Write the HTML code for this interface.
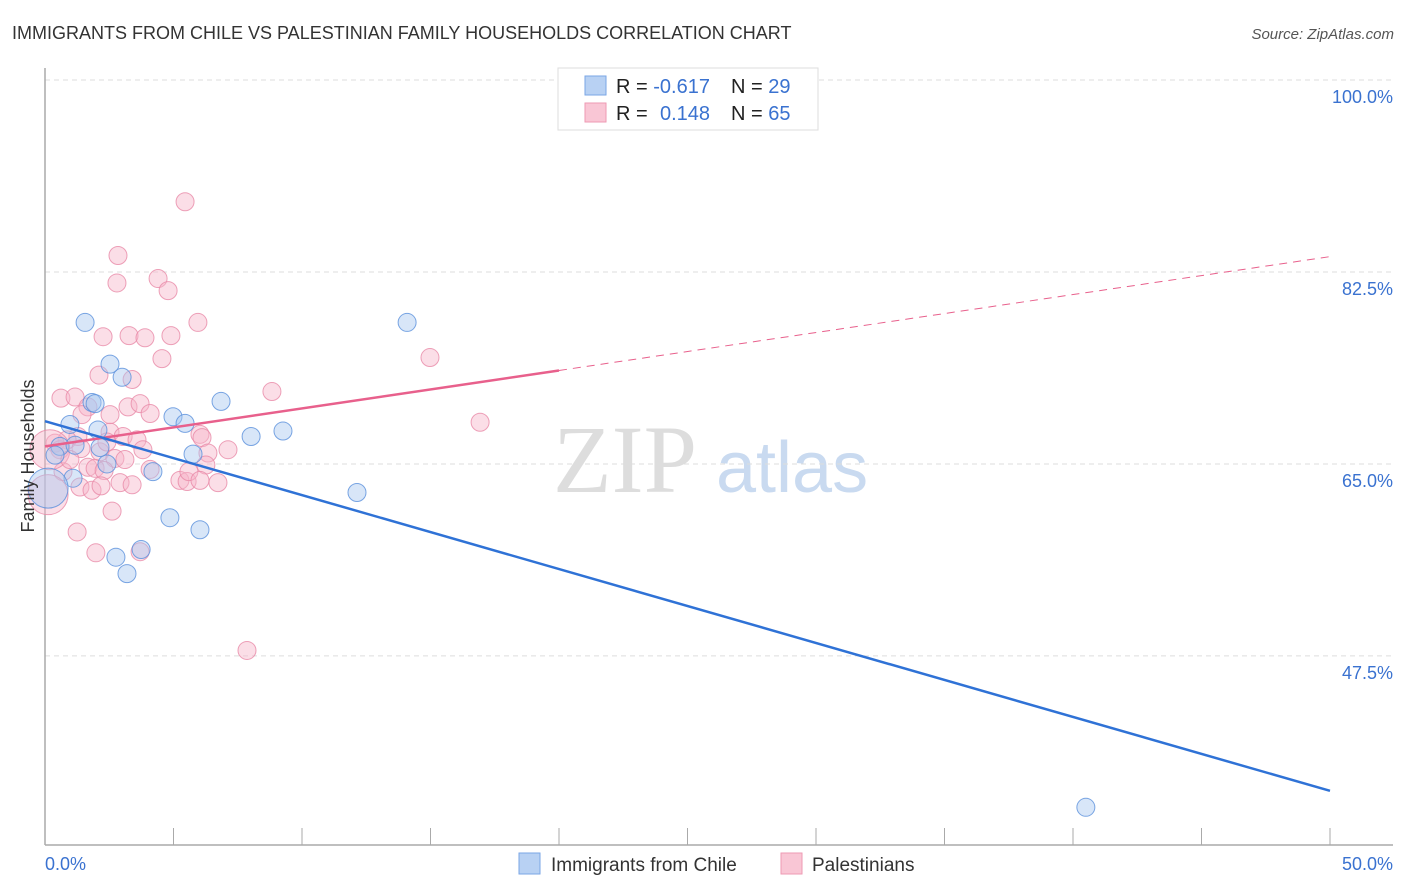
<!DOCTYPE html>
<html><head><meta charset="utf-8"><style>
body{margin:0;background:#fff;font-family:"Liberation Sans",sans-serif;}
svg{display:block}
</style></head><body>
<svg id="chart" width="1406" height="892" xmlns="http://www.w3.org/2000/svg">
<text x="12" y="39" font-size="18" fill="#333">IMMIGRANTS FROM CHILE VS PALESTINIAN FAMILY HOUSEHOLDS CORRELATION CHART</text>
<text x="1394" y="39" font-size="15" fill="#555" font-style="italic" text-anchor="end">Source: ZipAtlas.com</text>
<g>
<text x="553" y="492" font-family="Liberation Serif,serif" font-size="96" fill="#ddd">ZIP</text>
<text x="716" y="492" font-size="72" fill="#c9daf0">atlas</text>
</g>
<g id="grid"></g>
<g id="axes"></g>
<g id="marks"></g>
<g>
<rect x="558" y="68" width="260" height="62" fill="#fff" stroke="#ddd"/>
<rect x="585" y="76" width="21" height="19" fill="#b8d1f3" stroke="#7aa6e6"/>
<rect x="585" y="103" width="21" height="19" fill="#f9c6d5" stroke="#ee9ab3"/>
<text x="616" y="93" font-size="20" fill="#222">R = <tspan fill="#3a72d0">-0.617</tspan></text>
<text x="731" y="93" font-size="20" fill="#222">N = <tspan fill="#3a72d0">29</tspan></text>
<text x="616" y="120" font-size="20" fill="#222">R = <tspan fill="#3a72d0" x="660">0.148</tspan></text>
<text x="731" y="120" font-size="20" fill="#222">N = <tspan fill="#3a72d0">65</tspan></text>
</g>
<g>
<rect x="519" y="853" width="21" height="21" fill="#b8d1f3" stroke="#7aa6e6"/>
<text x="551" y="871" font-size="19" fill="#333">Immigrants from Chile</text>
<rect x="781" y="853" width="21" height="21" fill="#f9c6d5" stroke="#ee9ab3"/>
<text x="812" y="871" font-size="19" fill="#333">Palestinians</text>
</g>
<text transform="translate(34,456) rotate(-90)" font-size="18" fill="#333" text-anchor="middle">Family Households</text>
</svg>
<script>
const yTicks=[100,82.5,65,47.5];
const yTickLabels=["100.0%","82.5%","65.0%","47.5%"];
const xTicks=[0,5,10,15,20,25,30,35,40,45,50];
const xEndLabels=["0.0%","50.0%"];
const chileX=[1.56,2.53,3.00,1.83,1.95,4.98,5.45,6.85,9.26,8.02,2.06,0.97,0.58,0.39,2.41,4.20,1.09,5.76,4.86,6.03,3.74,2.76,3.19,12.14,14.09,40.5,0.12,1.17,2.14];
const chileY=[77.9,74.1,72.9,70.6,70.5,69.3,68.7,70.7,68.0,67.5,68.1,68.6,66.6,65.8,65.0,64.3,63.7,65.9,60.1,59.0,57.2,56.5,55.0,62.4,77.9,33.7,62.8,66.7,66.5];
const palX=[5.45,2.84,2.80,4.40,4.79,5.95,2.26,3.27,3.89,4.90,4.55,2.10,3.39,0.62,1.17,1.67,3.23,3.70,4.09,8.83,14.98,16.93,6.03,6.11,7.12,6.34,2.53,3.04,1.28,0.86,0.39,0.58,1.40,2.14,2.41,3.58,3.81,2.72,1.67,1.95,2.30,0.70,1.36,1.83,2.18,2.92,3.39,5.25,5.53,5.60,6.73,2.61,1.25,1.98,3.70,7.86,0.12,0.19,0.97,6.26,1.44,2.53,3.11,4.09,6.03];
const palY=[88.9,84.0,81.5,81.9,80.8,77.9,76.6,76.7,76.5,76.7,74.6,73.1,72.7,71.0,71.1,70.2,70.2,70.5,69.6,71.6,74.7,68.8,67.7,67.4,66.3,66.0,67.9,67.5,67.5,67.2,66.9,66.3,66.4,66.1,67.0,67.2,66.3,65.5,64.7,64.6,64.4,64.3,62.9,62.6,63.0,63.3,63.1,63.5,63.4,64.3,63.3,60.7,58.8,56.9,57.0,48.0,62.2,66.3,65.4,64.9,69.5,69.5,65.4,64.5,63.5];
const chileTrend=[68.9,35.2];
const palTrend=[66.6,83.9];
const palTrendSolidEnd=20;
const NS="http://www.w3.org/2000/svg";
const X0=45,X1=1330,YTOP=80,PXPER=10.97;
function sx(v){return X0+(v/50)*(X1-X0);}
function sy(v){return YTOP+(100-v)*PXPER;}
function mk(tag,attrs,parent){const e=document.createElementNS(NS,tag);for(const k in attrs)e.setAttribute(k,attrs[k]);parent.appendChild(e);return e;}
const grid=document.getElementById('grid'),axes=document.getElementById('axes'),marks=document.getElementById('marks');
yTicks.forEach((t,i)=>{
 const l=mk('line',{x1:45,x2:1393,y1:sy(t),y2:sy(t),stroke:'#ddd','stroke-dasharray':'5,4'},grid);
 
 
 const tx=mk('text',{x:1393,y:sy(t)+23,'font-size':18,fill:'#3a72d0','text-anchor':'end'},axes);
 tx.textContent=yTickLabels[i];
 
 
});
const ya=mk('line',{x1:45,x2:45,y1:68,y2:845,stroke:'#aaa','stroke-width':1.5},axes);


const xa=mk('line',{x1:45,x2:1393,y1:845,y2:845,stroke:'#aaa','stroke-width':1.5},axes);


xTicks.forEach(t=>{
 const l=mk('line',{x1:sx(t),x2:sx(t),y1:828,y2:845,stroke:'#aaa'},axes);
 
 
});
const xl0=mk('text',{x:45,y:870,'font-size':18,fill:'#3a72d0'},axes);
xl0.textContent=xEndLabels[0];


const xl1=mk('text',{x:1393,y:870,'font-size':18,fill:'#3a72d0','text-anchor':'end'},axes);
xl1.textContent=xEndLabels[1];


function dots(xs,ys,fill,stroke,name){
 xs.forEach((x,i)=>{
  const r=(x<0.2)?20:9;
  const c=mk('circle',{cx:sx(x),cy:sy(ys[i]),r:r,fill:fill,'fill-opacity':0.45,stroke:stroke,'stroke-opacity':0.8,'stroke-width':1},marks);
  
  
 });
}
dots(palX,palY,'#f7b6c9','#e98aa8','palestinians-point');
dots(chileX,chileY,'#a9c8f0','#5a90dc','chile-point');
const pSlope=(palTrend[1]-palTrend[0])/50;
const pm=palTrend[0]+pSlope*palTrendSolidEnd;
const p1=mk('line',{x1:sx(0),y1:sy(palTrend[0]),x2:sx(palTrendSolidEnd),y2:sy(pm),stroke:'#e8608c','stroke-width':2.5},marks);


const p2=mk('line',{x1:sx(palTrendSolidEnd),y1:sy(pm),x2:sx(50),y2:sy(palTrend[1]),stroke:'#e8608c','stroke-width':1,'stroke-dasharray':'8,6'},marks);


const c1=mk('line',{x1:sx(0),y1:sy(chileTrend[0]),x2:sx(50),y2:sy(chileTrend[1]),stroke:'#2f72d6','stroke-width':2.5},marks);


</script>
</body></html>
